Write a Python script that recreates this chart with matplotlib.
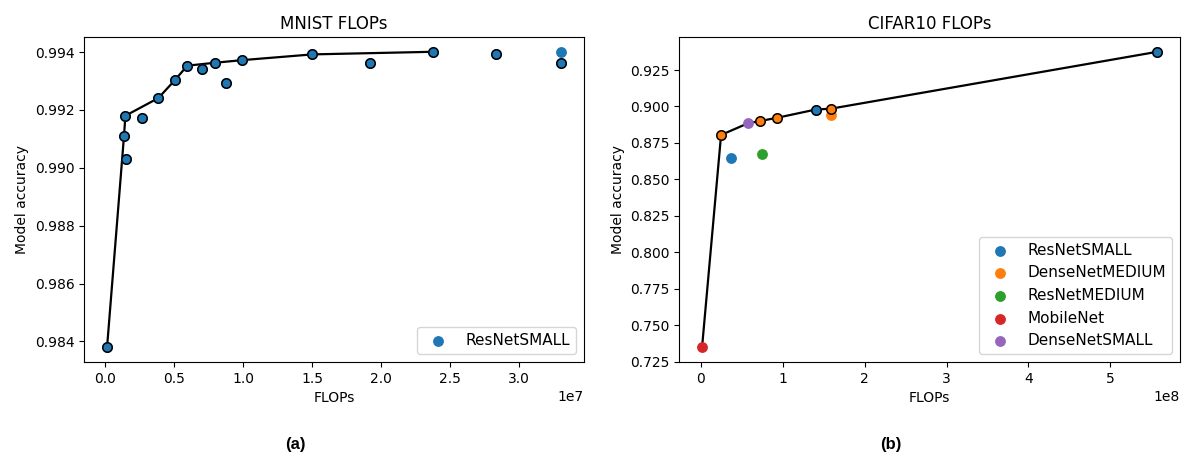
import numpy as np
import matplotlib
matplotlib.use("Agg")
import matplotlib.pyplot as plt

# MNIST: ResNetSMALL variants
mnist_flops = [0.012e7, 0.135e7, 0.150e7, 0.145e7, 0.266e7, 0.384e7, 0.502e7,
               0.594e7, 0.703e7, 0.792e7, 0.877e7, 0.988e7, 1.502e7, 1.918e7,
               2.377e7, 2.831e7, 3.307e7, 3.307e7]
mnist_acc = [0.98380, 0.99111, 0.99031, 0.99180, 0.99172, 0.99241, 0.99302,
             0.99353, 0.99341, 0.99363, 0.99292, 0.99372, 0.99392, 0.99362,
             0.99401, 0.99392, 0.99362, 0.99401]
mnist_outlined = [True] * 17 + [False]

# CIFAR10: several architectures
cifar_model = ["MobileNet", "DenseNetMEDIUM", "ResNetSMALL", "DenseNetSMALL",
               "DenseNetMEDIUM", "ResNetMEDIUM", "DenseNetMEDIUM", "ResNetSMALL",
               "DenseNetMEDIUM", "DenseNetMEDIUM", "ResNetSMALL"]
cifar_flops = [0.016e8, 0.248e8, 0.366e8, 0.577e8, 0.728e8, 0.748e8, 0.927e8,
               1.402e8, 1.589e8, 1.589e8, 5.573e8]
cifar_acc = [0.7350, 0.8805, 0.8650, 0.8885, 0.8901, 0.8673, 0.8922, 0.8979,
             0.8985, 0.8944, 0.9375]
cifar_outlined = [False, True, False, False, True, False, True, True, True,
                  False, True]
model_order = ["ResNetSMALL", "DenseNetMEDIUM", "ResNetMEDIUM", "MobileNet",
               "DenseNetSMALL"]

MARKER_S = 46


def pareto_front(x, y):
    idx = sorted(range(len(x)), key=lambda i: (x[i], -y[i]))
    fx, fy, best = [], [], -np.inf
    for i in idx:
        if y[i] > best:
            best = y[i]
            fx.append(x[i])
            fy.append(y[i])
    return fx, fy


plt.rcParams["font.size"] = 10
fig = plt.figure(figsize=(11.88, 4.57), dpi=100)
ax1 = fig.add_axes([0.0710, 0.2079, 0.4206, 0.7111])
ax2 = fig.add_axes([0.5718, 0.2079, 0.4215, 0.7111])

# MNIST panel
fx, fy = pareto_front(mnist_flops, mnist_acc)
ax1.plot(fx, fy, color="black", lw=1.6, zorder=2)
ax1.scatter(mnist_flops, mnist_acc, color="C0", s=MARKER_S, zorder=3,
            label="ResNetSMALL")
sel = [i for i, o in enumerate(mnist_outlined) if o]
ax1.scatter([mnist_flops[i] for i in sel], [mnist_acc[i] for i in sel],
            color="C0", edgecolors="black", linewidths=1.1, s=MARKER_S, zorder=4)
ax1.set_title("MNIST FLOPs", fontsize=12)
ax1.set_xlabel("FLOPs")
ax1.set_ylabel("Model accuracy")
ax1.legend(loc="lower right", fontsize=11)

# CIFAR10 panel
fx, fy = pareto_front(cifar_flops, cifar_acc)
ax2.plot(fx, fy, color="black", lw=1.6, zorder=2)
for k, name in enumerate(model_order):
    ii = [i for i, m in enumerate(cifar_model) if m == name]
    ax2.scatter([cifar_flops[i] for i in ii], [cifar_acc[i] for i in ii],
                color=f"C{k}", s=MARKER_S, zorder=3, label=name)
for k, name in enumerate(model_order):
    ii = [i for i, m in enumerate(cifar_model) if m == name and cifar_outlined[i]]
    if ii:
        ax2.scatter([cifar_flops[i] for i in ii], [cifar_acc[i] for i in ii],
                    color=f"C{k}", edgecolors="black", linewidths=1.1,
                    s=MARKER_S, zorder=4)
ax2.set_title("CIFAR10 FLOPs", fontsize=12)
ax2.set_xlabel("FLOPs")
ax2.set_ylabel("Model accuracy")
ax2.legend(loc="lower right", fontsize=11)

fig.text(0.249, 0.028, "(a)", ha="center", va="center", fontsize=12,
         fontweight="bold", family=["Liberation Sans", "DejaVu Sans"])
fig.text(0.750, 0.028, "(b)", ha="center", va="center", fontsize=12,
         fontweight="bold", family=["Liberation Sans", "DejaVu Sans"])

fig.savefig("out.png", dpi=100)
